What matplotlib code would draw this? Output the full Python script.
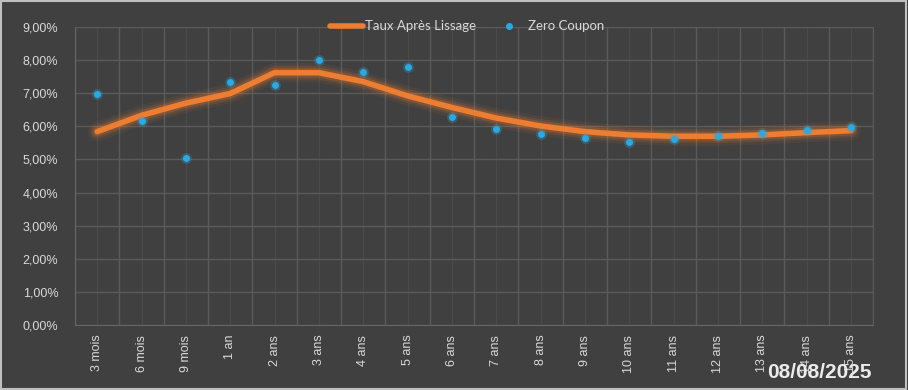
import matplotlib.pyplot as plt
import numpy as np
from matplotlib.patches import Rectangle
from matplotlib.ticker import FuncFormatter, MultipleLocator

# Maturités et taux (en %)
maturities = ["3 mois", "6 mois", "9 mois", "1 an", "2 ans", "3 ans", "4 ans", "5 ans",
              "6 ans", "7 ans", "8 ans", "9 ans", "10 ans", "11 ans", "12 ans",
              "13 ans", "14 ans", "15 ans"]
smoothed = [5.84, 6.33, 6.70, 6.99, 7.62, 7.62, 7.35, 6.92, 6.57, 6.25, 6.01, 5.84,
            5.74, 5.70, 5.70, 5.74, 5.81, 5.87]
zero_coupon = [6.99, 6.17, 5.05, 7.34, 7.25, 7.99, 7.64, 7.80, 6.28, 5.91, 5.78, 5.65,
               5.53, 5.61, 5.71, 5.80, 5.89, 5.97]
date_label = "08/08/2025"

bg = "#404040"
orange = "#ED7D31"
blue = "#2AAAE2"
txt = "#D9D9D9"

fig = plt.figure(figsize=(9.08, 3.9), dpi=100, facecolor=bg)
ax = fig.add_axes([0.0826, 0.1667, 0.879, 0.7641], facecolor=bg)

x = np.arange(len(maturities))

# glow under the smoothed curve
for lw, a in [(14, 0.07), (10, 0.13), (7, 0.22)]:
    ax.plot(x, smoothed, color=orange, lw=lw, alpha=a, solid_capstyle="round", zorder=2)
ax.plot(x, smoothed, color=orange, lw=4, solid_capstyle="round",
        solid_joinstyle="round", label="Taux Après Lissage", zorder=3)

ax.plot(x, zero_coupon, "o", color=blue, ms=7, alpha=0.2, zorder=4)
ax.plot(x, zero_coupon, "o", color=blue, ms=4, ls="none", label="Zero Coupon", zorder=5)

ax.set_xlim(-0.5, len(maturities) - 0.5)
ax.set_ylim(0, 9)
ax.yaxis.set_major_locator(MultipleLocator(1))
ax.yaxis.set_major_formatter(FuncFormatter(lambda v, p: f"{v:.2f}%".replace(".", ",")))

ax.set_xticks(x)
ax.set_xticklabels(maturities, rotation=90)
ax.set_xticks(np.arange(-0.5, len(maturities)), minor=True)

ax.grid(True, axis="y", color="#5A5A5A", lw=1)
ax.grid(True, axis="x", which="minor", color="#5A5A5A", lw=1)
ax.grid(True, axis="x", which="major", color="#4A4A4A", lw=1)
ax.set_axisbelow(True)

for s in ["top", "right"]:
    ax.spines[s].set_color("#5A5A5A")
ax.spines["left"].set_color("#666666")
ax.spines["bottom"].set_color("#666666")

ax.tick_params(axis="both", which="both", length=0, colors=txt, labelsize=9)
ax.tick_params(axis="x", pad=7)
ax.tick_params(axis="y", pad=12)
for lab in ax.get_xticklabels() + ax.get_yticklabels():
    lab.set_fontfamily("Liberation Sans")

leg = ax.legend(loc="lower center", bbox_to_anchor=(0.491, 0.965), ncol=2, frameon=False,
                fontsize=9.5, labelcolor=txt, handlelength=2.5, columnspacing=1.3,
                handletextpad=0.15, borderaxespad=0)
for t in leg.get_texts():
    t.set_fontfamily("Lato")

fig.text(0.960, 0.046, date_label, ha="right", va="center", fontsize=15,
         fontweight="bold", color="#EBEBEB", family="Liberation Sans")

fig.patches.append(Rectangle((0.001, 0.002), 0.997, 0.995, transform=fig.transFigure,
                             fill=False, edgecolor="#BFBFBF", lw=1.5))

fig.savefig("out.png", dpi=100, facecolor=bg)
plt.close(fig)
